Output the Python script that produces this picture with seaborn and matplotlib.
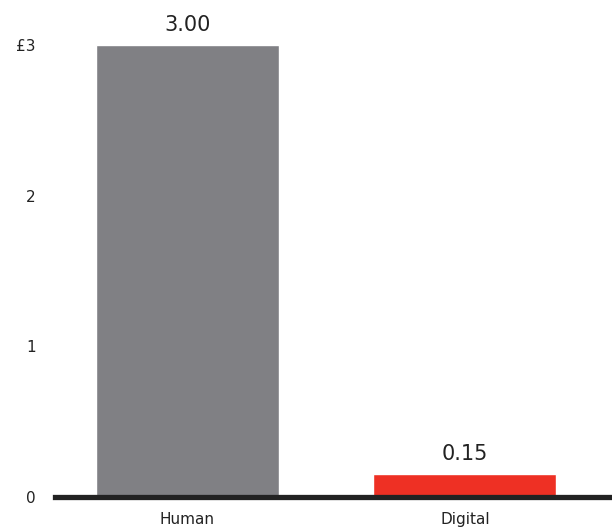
import matplotlib
matplotlib.use("Agg")
import matplotlib.pyplot as plt
import seaborn as sns
import pandas as pd

categories = ["Human", "Digital"]
values = [3.00, 0.15]
value_labels = ["3.00", "0.15"]
bar_colors = ["#808084", "#EE3024"]
y_ticks = [0, 1, 2, 3]
y_tick_labels = ["0", "1", "2", "£3"]

sns.set_theme(style="white")
plt.rcParams["font.family"] = ["DejaVu Sans"]

df = pd.DataFrame({"category": categories, "value": values})

fig = plt.figure(figsize=(6.12, 5.31), dpi=100)
ax = fig.add_axes([55 / 612, 34 / 531, 557 / 612, 467 / 531])

sns.barplot(data=df, x="category", y="value", hue="category",
            palette=bar_colors, width=0.66, legend=False, ax=ax,
            saturation=1)

for i, (v, lab) in enumerate(zip(values, value_labels)):
    ax.text(i, v + 0.07, lab, ha="center", va="bottom", fontsize=15,
            color="#222222")

ax.set_xlim(-0.477, 1.53)
ax.set_ylim(0, 3.1)
ax.set_yticks(y_ticks)
ax.set_yticklabels(y_tick_labels)
ax.set_xlabel("")
ax.set_ylabel("")

for side in ["top", "right", "left"]:
    ax.spines[side].set_visible(False)
ax.spines["bottom"].set_linewidth(3.8)
ax.spines["bottom"].set_color("#222222")
ax.spines["bottom"].set_zorder(5)

ax.tick_params(axis="y", length=0, pad=14, labelsize=11, labelcolor="#222222")
ax.tick_params(axis="x", length=0, pad=11, labelsize=11, labelcolor="#222222")

fig.savefig("out.png", dpi=100)
